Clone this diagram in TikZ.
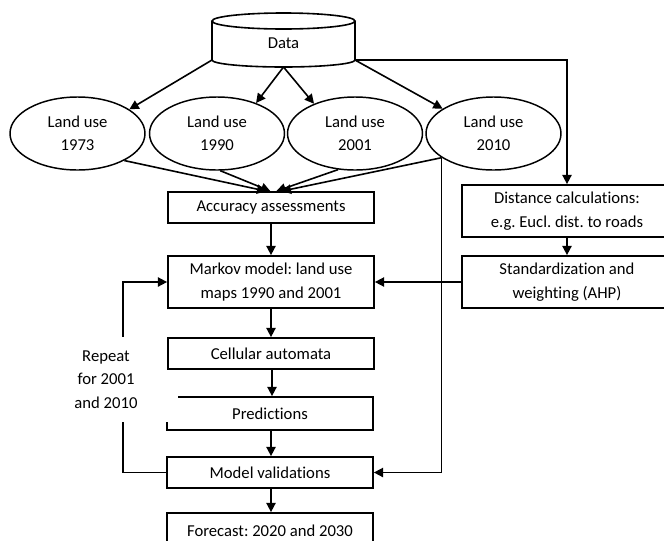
\documentclass[tikz,border=0pt]{standalone}
\usepackage{fontspec}
\setmainfont{Carlito}[Ligatures=NoCommon]
\usetikzlibrary{arrows.meta,shapes.geometric}
\newcommand\myfs{\fontsize{12.5}{17.5}\selectfont}
\frenchspacing
\begin{document}
\begin{tikzpicture}[x=0.75pt,y=-0.75pt,
  arr/.style={line width=1.2pt,-{Triangle[length=7pt,width=7pt]}},
  ln/.style={line width=1.2pt},
  box/.style={draw,line width=1.3pt,fill=white,minimum width=154.5pt,inner sep=0pt,align=center,font=\myfs},
  rbox/.style={draw,line width=1.3pt,fill=white,minimum width=157.5pt,minimum height=39pt,inner sep=0pt,align=center,font=\myfs},
  lu/.style={draw,ellipse,line width=1.1pt,minimum width=101.25pt,minimum height=54.75pt,inner sep=0pt,align=center,font=\myfs}]
\useasboundingbox (0,0) rectangle (664,540);
\clip (0,0) rectangle (664,540);
% Data cylinder
\draw[line width=1.2pt] (283.5,21) ellipse [x radius=71.5, y radius=8];
\draw[line width=1.2pt] (212,21) -- (212,60)
  .. controls (212,63.87) and (244.0,67) .. (283.5,67)
  .. controls (323.0,67) and (355,63.87) .. (355,60) -- (355,21);
\node[font=\myfs] (data) at (283.5,43) {Data};
\coordinate (dsw) at (212,60);
\coordinate (dse) at (355,60);
\coordinate (ds) at (283.5,67);
% land use ellipses
\node[lu] (e1973) at (77.5,133.5) {Land use\\1973};
\node[lu] (e1990) at (217,133.5) {Land use\\1990};
\node[lu] (e2001) at (355,133.5) {Land use\\2001};
\node[lu] (e2010) at (493.5,133.5) {Land use\\2010};
% left column boxes
\node[box,minimum height=23.25pt] (acc) at (271,207.5) {Accuracy assessments};
\node[box,minimum height=39pt] (markov) at (271,282) {Markov model: land use\\maps 1990 and 2001};
\node[box,minimum height=23.25pt] (val) at (270,472.5) {Model validations};
\node[box,minimum height=24.75pt] (pred) at (270,413.5) {Predictions};
\node[box,minimum height=27pt] (fore) at (270,531) {Forecast: 2020 and 2030};
% right boxes
\node[rbox] (dist) at (567,211) {Distance calculations:\\e.g. Eucl. dist. to roads};
\node[rbox] (std) at (567,282) {Standardization and\\weighting (AHP)};
% loop
\draw[arr] (val.west) -- ++(-43,0) |- (markov.west);
\node[fill=white,minimum width=108pt,minimum height=63.75pt,inner sep=0pt,align=center,font=\myfs] (rep) at (106,379.5) {Repeat\\for 2001\\and 2010};
\node[box,minimum height=23.25pt] (ca) at (271,353.5) {Cellular automata};
% arrows from data
\draw[arr] (dsw) -- (e1973.25);
\draw[arr] (ds) -- (e1990.38);
\draw[arr] (ds) -- (e2001.144);
\draw[arr] (dse) -- (e2010.154);
\draw[arr] (dse) -| (dist.north);
% into accuracy
\draw[arr] (e1973.330) -- ([xshift=-3.5pt]acc.north);
\draw[arr] (e1990.275) -- ([xshift=-0.5pt]acc.north);
\draw[arr] (e2001.245) -- ([xshift=4pt]acc.north);
\draw[arr] (e2010.205) -- ([xshift=8pt]acc.north);
% vertical chain
\draw[arr] (acc.south) -- (markov.north);
\draw[arr] (markov.south) -- (ca.north);
\draw[arr] ([xshift=0.75pt]ca.south) -- ([xshift=1.5pt]pred.north);
\draw[arr] ([xshift=0.75pt]pred.south) -- ([xshift=0.75pt]val.north);
\draw[arr] ([xshift=0.75pt]val.south) -- ([xshift=0.75pt]fore.north);
% right side
\draw[arr] (dist.south) -- (std.north);
\draw[arr] (std.west) -- (markov.east);
\draw[arr] (e2010.205) |- (val.east);
\end{tikzpicture}
\end{document}
